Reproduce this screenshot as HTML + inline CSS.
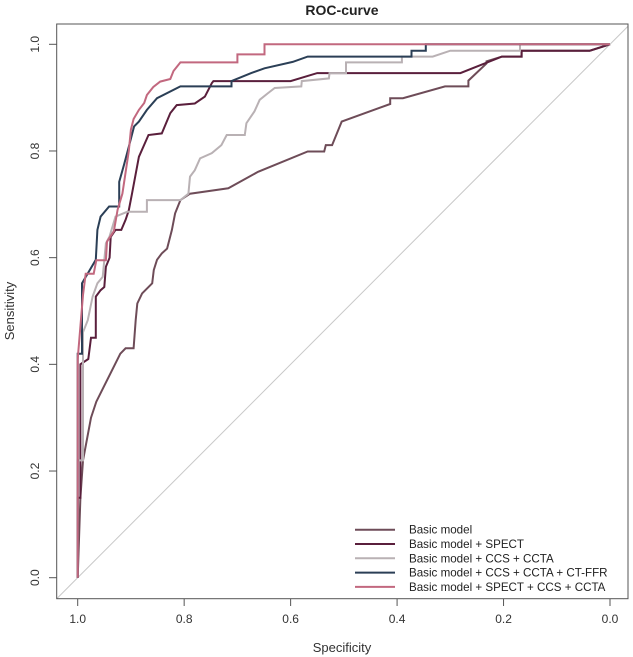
<!DOCTYPE html>
<html><head><meta charset="utf-8"><style>
body{margin:0;background:#fff;}
svg{display:block;font-family:"Liberation Sans",Arial,sans-serif;}
</style></head><body>
<svg id="chart" width="633" height="657" viewBox="0 0 633 657" xmlns="http://www.w3.org/2000/svg">
<rect x="0" y="0" width="633" height="657" fill="#fff"/>
<text x="342" y="15" text-anchor="middle" font-size="14" font-weight="bold" fill="#222">ROC-curve</text>
<line id="diag" stroke="#c8c8c8" stroke-width="1"/>
<g id="curves"></g>
<rect x="56.7" y="24" width="571.3" height="574.7" fill="none" stroke="#555" stroke-width="1"/>
<g id="axes"></g>
<text x="342" y="652" text-anchor="middle" font-size="13" fill="#333">Specificity</text>
<text transform="translate(14,311) rotate(-90)" text-anchor="middle" font-size="13" fill="#333">Sensitivity</text>
<g id="legend"></g>
</svg>
<script>
const seriesNames = ["Basic model","Basic model + SPECT","Basic model + CCS + CCTA","Basic model + CCS + CCTA + CT-FFR","Basic model + SPECT + CCS + CCTA"];
const seriesColors = ["#6e4c58","#5a1f3c","#b9b1b4","#2b3f56","#c2687f"];
const xTicks = [1.0,0.8,0.6,0.4,0.2,0.0];
const yTicks = [0.0,0.2,0.4,0.6,0.8,1.0];
const basicSpec = [1,0.995,0.99,0.975,0.965,0.95,0.93,0.92,0.91,0.895,0.891,0.888,0.879,0.86,0.857,0.851,0.842,0.832,0.823,0.817,0.807,0.789,0.717,0.661,0.568,0.537,0.534,0.528,0.522,0.504,0.413,0.413,0.389,0.31,0.266,0.266,0.232,0.232,0.203,0.166,0.166,0.038,0];
const basicSens = [0,0.15,0.22,0.30,0.33,0.36,0.40,0.42,0.43,0.43,0.483,0.514,0.533,0.552,0.577,0.596,0.608,0.617,0.652,0.683,0.708,0.72,0.73,0.761,0.799,0.799,0.811,0.811,0.811,0.855,0.888,0.899,0.899,0.921,0.921,0.932,0.964,0.968,0.977,0.977,0.988,0.988,1];
const spectSpec = [1,1,0.995,0.995,0.98,0.975,0.966,0.966,0.957,0.95,0.947,0.94,0.938,0.929,0.918,0.910,0.904,0.898,0.885,0.867,0.842,0.826,0.814,0.78,0.761,0.748,0.745,0.60,0.55,0.281,0.203,0.166,0.166,0.038,0];
const spectSens = [0,0.15,0.15,0.40,0.41,0.45,0.45,0.527,0.539,0.545,0.583,0.60,0.639,0.652,0.652,0.671,0.689,0.72,0.789,0.83,0.833,0.871,0.886,0.889,0.902,0.927,0.931,0.931,0.946,0.946,0.977,0.977,0.988,0.988,1];
const ccsSpec = [1,1,0.99,0.99,0.981,0.972,0.963,0.953,0.947,0.94,0.929,0.907,0.870,0.870,0.807,0.792,0.789,0.78,0.77,0.748,0.73,0.72,0.686,0.683,0.668,0.658,0.643,0.63,0.58,0.579,0.528,0.527,0.496,0.496,0.391,0.391,0.333,0.30,0.169,0.169,0];
const ccsSens = [0,0.22,0.22,0.46,0.483,0.527,0.552,0.564,0.627,0.64,0.677,0.686,0.686,0.708,0.708,0.72,0.752,0.764,0.786,0.796,0.811,0.83,0.83,0.852,0.874,0.896,0.908,0.918,0.921,0.931,0.936,0.946,0.946,0.966,0.966,0.977,0.977,0.988,0.988,1,1];
const ffrSpec = [1,1,0.992,0.992,0.966,0.963,0.957,0.941,0.922,0.922,0.913,0.904,0.894,0.885,0.870,0.851,0.807,0.711,0.711,0.674,0.649,0.596,0.568,0.373,0.373,0.346,0.346,0];
const ffrSens = [0,0.42,0.42,0.552,0.596,0.652,0.677,0.696,0.696,0.742,0.774,0.808,0.846,0.855,0.877,0.899,0.921,0.921,0.931,0.946,0.955,0.967,0.977,0.977,0.988,0.988,1,1];
const pinkSpec = [1,1,0.99,0.985,0.97,0.965,0.947,0.945,0.932,0.925,0.916,0.91,0.904,0.9,0.895,0.885,0.875,0.87,0.858,0.845,0.826,0.82,0.807,0.70,0.70,0.649,0.649,0];
const pinkSens = [0,0.41,0.53,0.57,0.57,0.595,0.595,0.63,0.65,0.69,0.72,0.76,0.80,0.84,0.86,0.877,0.89,0.905,0.92,0.93,0.935,0.95,0.966,0.966,0.981,0.981,1,1];

const NS="http://www.w3.org/2000/svg";
function xScale(s){return 77.7+(1-s)*532.3;}
function yScale(v){return 577.7-v*533.4;}
// diagonal sens = 1 - spec, extended to box edges
(function(){
  const d=document.getElementById('diag');
  const sLeft=1+(77.7-56.7)/532.3; // spec at left box edge
  const sRight=1-(628-77.7)/532.3;
  d.setAttribute('x1',56.7);d.setAttribute('y1',yScale(1-sLeft));
  d.setAttribute('x2',628);d.setAttribute('y2',yScale(1-sRight));
})();
const curvesG=document.getElementById('curves');
const specs=[basicSpec,spectSpec,ccsSpec,ffrSpec,pinkSpec];
const senss=[basicSens,spectSens,ccsSens,ffrSens,pinkSens];
const curveNames=['curve-basic-model','curve-spect','curve-ccs-ccta','curve-ct-ffr','curve-spect-ccs-ccta'];
for(let i=0;i<5;i++){
  const p=document.createElementNS(NS,'polyline');
  
  
  p.setAttribute('points',specs[i].map((s,j)=>xScale(s).toFixed(1)+','+yScale(senss[i][j]).toFixed(1)).join(' '));
  p.setAttribute('fill','none');p.setAttribute('stroke',seriesColors[i]);p.setAttribute('stroke-width','2');
  curvesG.appendChild(p);
}
const axesG=document.getElementById('axes');
xTicks.forEach(t=>{
  const x=xScale(t);
  const l=document.createElementNS(NS,'line');
  
  
  l.setAttribute('x1',x);l.setAttribute('x2',x);l.setAttribute('y1',598.7);l.setAttribute('y2',606);l.setAttribute('stroke','#555');
  axesG.appendChild(l);
  const tx=document.createElementNS(NS,'text');
  
  
  tx.setAttribute('x',x);tx.setAttribute('y',623);tx.setAttribute('text-anchor','middle');tx.setAttribute('font-size','12');tx.setAttribute('fill','#333');
  tx.textContent=t.toFixed(1);axesG.appendChild(tx);
});
yTicks.forEach(t=>{
  const y=yScale(t);
  const l=document.createElementNS(NS,'line');
  
  
  l.setAttribute('x1',49);l.setAttribute('x2',56.7);l.setAttribute('y1',y);l.setAttribute('y2',y);l.setAttribute('stroke','#555');
  axesG.appendChild(l);
  const tx=document.createElementNS(NS,'text');
  
  
  tx.setAttribute('transform','translate(39,'+y+') rotate(-90)');tx.setAttribute('text-anchor','middle');tx.setAttribute('font-size','12');tx.setAttribute('fill','#333');
  tx.textContent=t.toFixed(1);axesG.appendChild(tx);
});
const legG=document.getElementById('legend');
seriesNames.forEach((n,i)=>{
  const y=529.7+i*14.3;
  const l=document.createElementNS(NS,'line');
  
  
  l.setAttribute('x1',355);l.setAttribute('x2',395);l.setAttribute('y1',y);l.setAttribute('y2',y);l.setAttribute('stroke',seriesColors[i]);l.setAttribute('stroke-width','2');
  legG.appendChild(l);
  const tx=document.createElementNS(NS,'text');
  
  
  tx.setAttribute('x',409);tx.setAttribute('y',y+4);tx.setAttribute('font-size','11.6');tx.setAttribute('fill','#222');
  tx.textContent=n;legG.appendChild(tx);
});
</script>
</body></html>
